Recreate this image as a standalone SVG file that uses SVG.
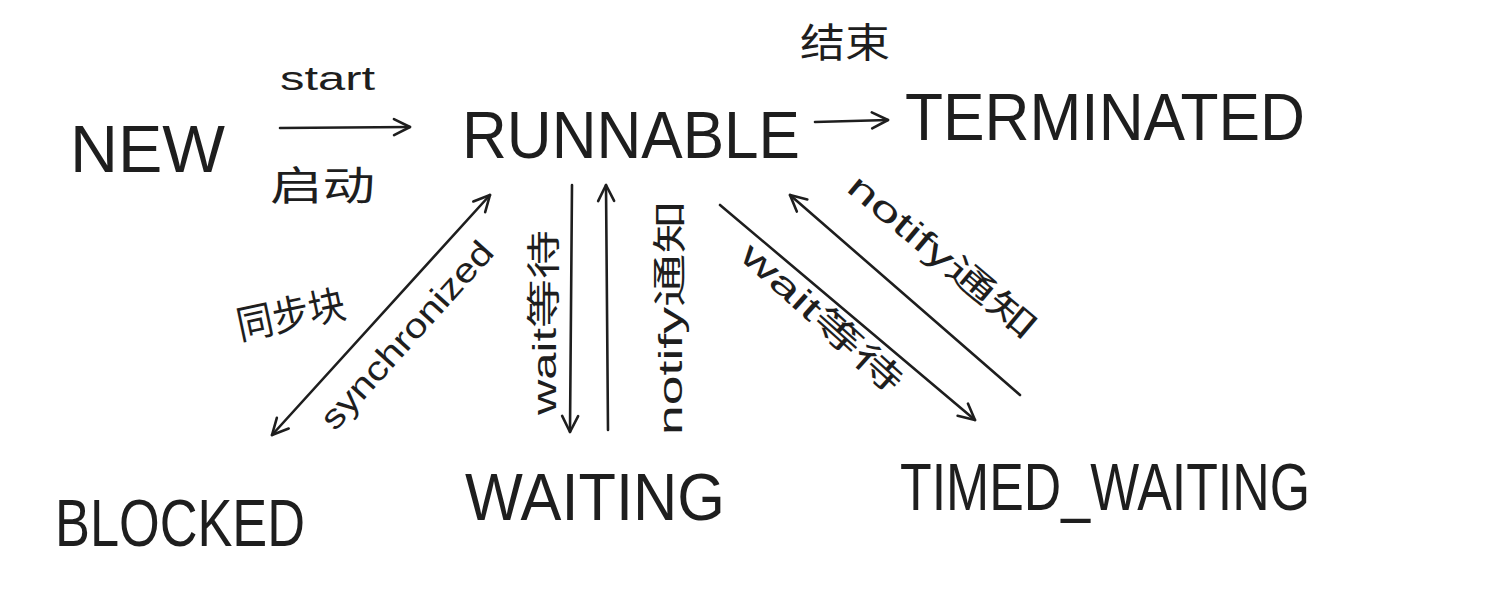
<svg xmlns="http://www.w3.org/2000/svg" width="1486" height="602" viewBox="0 0 1486 602">
<style>
.st{font-family:"Liberation Sans","Noto Sans CJK SC",sans-serif;fill:#1e1e1e;font-size:66px;}
.lb{font-family:"Liberation Sans","Noto Sans CJK SC",sans-serif;fill:#1e1e1e;font-size:34px;}
.cn{font-family:"Noto Sans CJK SC",sans-serif;fill:#1e1e1e;font-size:40px;}
.ln{stroke:#1e1e1e;stroke-width:2.6;fill:none;stroke-linecap:round;}
</style>
<defs>
<marker id="ah" viewBox="0 0 20 20" refX="18" refY="10" markerWidth="20" markerHeight="20" markerUnits="userSpaceOnUse" orient="auto-start-reverse">
<path d="M2,2 L18,10 L2,18" fill="none" stroke="#1e1e1e" stroke-width="2.6" stroke-linecap="round" stroke-linejoin="round"/>
</marker>
</defs>
<rect width="1486" height="602" fill="#ffffff"/>
<g id="node-new"><text class="st" x="70" y="172" textLength="155" lengthAdjust="spacingAndGlyphs">NEW</text></g>
<g id="node-runnable"><text class="st" x="462" y="158" textLength="338" lengthAdjust="spacingAndGlyphs">RUNNABLE</text></g>
<g id="node-terminated"><text class="st" x="905" y="140" textLength="400" lengthAdjust="spacingAndGlyphs">TERMINATED</text></g>
<g id="node-blocked"><text class="st" x="55" y="546" textLength="250" lengthAdjust="spacingAndGlyphs">BLOCKED</text></g>
<g id="node-waiting"><text class="st" x="465" y="520" textLength="260" lengthAdjust="spacingAndGlyphs">WAITING</text></g>
<g id="node-timed-waiting"><text class="st" x="900" y="510" textLength="410" lengthAdjust="spacingAndGlyphs">TIMED_WAITING</text></g>
<g id="connectors">
<line class="ln" x1="280" y1="128" x2="410" y2="127" marker-end="url(#ah)"/>
<line class="ln" x1="815" y1="122" x2="888" y2="120" marker-end="url(#ah)"/>
<line class="ln" x1="272" y1="435" x2="490" y2="195" marker-start="url(#ah)" marker-end="url(#ah)"/>
<line class="ln" x1="572" y1="185" x2="570" y2="432" marker-end="url(#ah)"/>
<line class="ln" x1="608" y1="430" x2="606" y2="185" marker-end="url(#ah)"/>
<line class="ln" x1="720" y1="205" x2="975" y2="420" marker-end="url(#ah)"/>
<line class="ln" x1="1020" y1="395" x2="790" y2="195" marker-end="url(#ah)"/>
<text class="lb" x="280" y="90" textLength="95" lengthAdjust="spacingAndGlyphs">start</text>
<text class="cn" x="270" y="200" textLength="105" lengthAdjust="spacingAndGlyphs">启动</text>
<text class="cn" x="800" y="57" font-size="36" textLength="90" lengthAdjust="spacingAndGlyphs">结束</text>
<text class="cn" x="240" y="340" transform="rotate(-12 240 340)" textLength="110" lengthAdjust="spacingAndGlyphs">同步块</text>
<text class="lb" transform="translate(335 432) rotate(-48)" textLength="240" lengthAdjust="spacingAndGlyphs">synchronized</text>
<text class="lb" transform="translate(556 415) rotate(-90)" textLength="185" lengthAdjust="spacingAndGlyphs">wait等待</text>
<text class="lb" transform="translate(682 435) rotate(-90)" textLength="235" lengthAdjust="spacingAndGlyphs">notify通知</text>
<text class="lb" transform="translate(738 258) rotate(42)" textLength="205" lengthAdjust="spacingAndGlyphs">wait等待</text>
<text class="lb" transform="translate(845 190) rotate(40)" textLength="235" lengthAdjust="spacingAndGlyphs">notify通知</text>
</g>
</svg>
